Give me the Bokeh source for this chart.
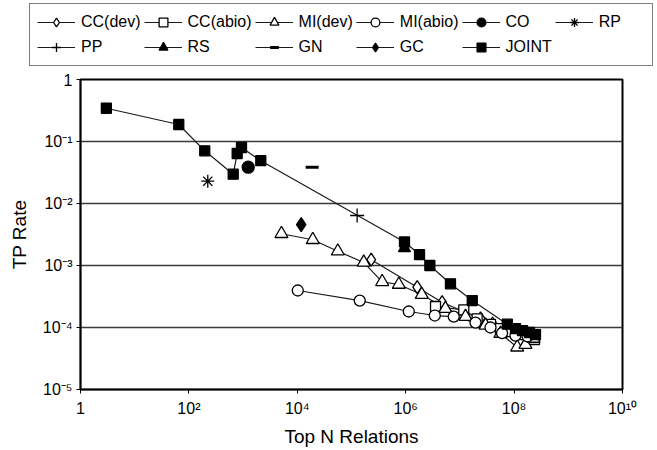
from bokeh.plotting import figure
from bokeh.models import Range1d, FixedTicker, Legend, LegendItem
from bokeh.embed import file_html
from bokeh.resources import INLINE

# ---------------- data ----------------
cc_dev_x = [2.31e5, 1.63e6, 4.7e6, 1.16e7, 2.4e7, 4.0e7, 6.4e7, 9.3e7, 1.31e8, 1.77e8, 2.18e8]
cc_dev_y = [1.24e-3, 4.47e-4, 2.56e-4, 1.81e-4, 1.40e-4, 1.16e-4, 1.0e-4, 8.9e-5, 8.3e-5, 7.7e-5, 7.4e-5]

cc_abio_x = [3.55e6, 1.18e7, 2.08e7, 3.67e7, 5.6e7, 8.6e7, 1.31e8, 1.85e8, 2.38e8]
cc_abio_y = [2.18e-4, 1.93e-4, 1.38e-4, 1.12e-4, 9.6e-5, 8.6e-5, 7.7e-5, 6.9e-5, 6.4e-5]

mi_dev_x = [5.1e3, 1.93e4, 5.59e4, 1.68e5, 3.68e5, 7.46e5, 1.98e6, 5.4e6, 1.27e7, 2.97e7, 5.6e7, 1.14e8, 1.62e8, 2.28e8]
mi_dev_y = [3.25e-3, 2.6e-3, 1.7e-3, 1.12e-3, 5.46e-4, 4.94e-4, 3.4e-4, 2.02e-4, 1.5e-4, 1.08e-4, 8.0e-5, 4.8e-5, 5.3e-5, 6.65e-5]

mi_abio_x = [1.02e4, 1.42e5, 1.14e6, 3.44e6, 7.7e6, 1.94e7, 3.67e7, 6.0e7, 1.06e8, 1.77e8]
mi_abio_y = [3.95e-4, 2.72e-4, 1.81e-4, 1.56e-4, 1.5e-4, 1.2e-4, 1.0e-4, 8.1e-5, 7.4e-5, 7.2e-5]

joint_x = [3, 65, 196, 657, 778, 934, 2120, 9.5e5, 1.8e6, 2.79e6, 6.7e6, 1.69e7, 7.5e7, 1.06e8, 1.43e8, 1.92e8, 2.48e8]
joint_y = [0.344, 0.188, 0.0708, 0.0297, 0.064, 0.080, 0.049, 2.4e-3, 1.5e-3, 1.0e-3, 5.07e-4, 2.72e-4, 1.13e-4, 9.6e-5, 8.9e-5, 8.3e-5, 7.7e-5]

co_x, co_y = [1242], [0.0385]
rp_x, rp_y = [223], [0.0229]
pp_x, pp_y = [1.27e5], [0.0064]
rs_x, rs_y = [9.5e5], [1.9e-3]
gn_x, gn_y = [1.88e4], [0.0385]
gc_x, gc_y = [1.18e4], [4.58e-3]

x_ticks = [1, 1e2, 1e4, 1e6, 1e8, 1e10]
x_tick_labels = ["1", "10²", "10⁴", "10⁶", "10⁸", "10¹⁰"]
y_ticks = [1e-5, 1e-4, 1e-3, 1e-2, 1e-1, 1]
y_tick_labels = ["10⁻⁵", "10⁻⁴", "10⁻³", "10⁻²", "10⁻¹", "1"]

FONT = "Liberation Sans"

series = [
    ("CC(dev)", cc_dev_x, cc_dev_y, "diamond", 13, "white"),
    ("CC(abio)", cc_abio_x, cc_abio_y, "square", 10, "white"),
    ("MI(dev)", mi_dev_x, mi_dev_y, "triangle", 13, "white"),
    ("MI(abio)", mi_abio_x, mi_abio_y, "circle", 11, "white"),
    ("CO", co_x, co_y, "circle", 12, "black"),
    ("RP", rp_x, rp_y, "asterisk", 13, "black"),
    ("PP", pp_x, pp_y, "cross", 14, "black"),
    ("RS", rs_x, rs_y, "triangle", 12, "black"),
    ("GN", gn_x, gn_y, "dash", 13, "black"),
    ("GC", gc_x, gc_y, "diamond", 14, "black"),
    ("JOINT", joint_x, joint_y, "square", 10, "black"),
]

# ---------------- main chart ----------------
p = figure(width=657, height=379, x_axis_type="log", y_axis_type="log",
           x_range=Range1d(1, 1e10), y_range=Range1d(1e-5, 1),
           output_backend="svg", toolbar_location=None,
           min_border_left=80, min_border_right=35, min_border_top=8, min_border_bottom=61)

p.outline_line_color = "black"
p.outline_line_width = 2
p.background_fill_color = "white"
p.border_fill_color = "white"

p.xgrid.visible = False
p.ygrid.ticker = FixedTicker(ticks=y_ticks)
p.ygrid.grid_line_color = "#3a3a3a"
p.ygrid.grid_line_width = 1.5

for ax, ticks, labels in ((p.xaxis[0], x_ticks, x_tick_labels), (p.yaxis[0], y_ticks, y_tick_labels)):
    ax.ticker = FixedTicker(ticks=ticks, minor_ticks=[])
    ax.major_label_overrides = {t: l for t, l in zip(ticks, labels)}
    ax.major_tick_in = 0
    ax.major_tick_out = 4
    ax.minor_tick_in = 0
    ax.minor_tick_out = 0
    ax.axis_line_color = "black"
    ax.axis_line_width = 1.5
    ax.major_tick_line_color = "black"
    ax.major_label_text_font = FONT
    ax.major_label_text_font_size = "16px"
    ax.major_label_text_color = "black"
    ax.axis_label_text_font = FONT
    ax.axis_label_text_font_size = "19px"
    ax.axis_label_text_font_style = "normal"
    ax.axis_label_text_color = "black"

p.xaxis.axis_label = "Top N Relations"
p.yaxis.axis_label = "TP Rate"
p.xaxis.major_label_standoff = 6
p.xaxis.axis_label_standoff = 6
p.yaxis.major_label_standoff = 4
p.yaxis.axis_label_standoff = 10

for name, xs, ys, marker, size, fill in series:
    p.line(xs, ys, line_color="#1a1a1a", line_width=1.2)
for name, xs, ys, marker, size, fill in series:
    lw = 3 if marker == "dash" else 1.3
    p.scatter(xs, ys, marker=marker, size=size, fill_color=fill,
              line_color="black", line_width=lw)

# ---------------- legend strip (same series, shown only as legend keys) ----------------
lg = figure(width=657, height=71, x_range=Range1d(0, 1), y_range=Range1d(0, 1),
            output_backend="svg", toolbar_location=None,
            x_axis_location=None, y_axis_location=None,
            min_border_left=0, min_border_right=0, min_border_top=0, min_border_bottom=0)
lg.outline_line_color = None
lg.grid.visible = False

items = []
for name, xs, ys, marker, size, fill in series:
    lr = lg.line(xs, ys, line_color="#1a1a1a", line_width=1.2)
    lw = 3 if marker == "dash" else 1.3
    sr = lg.scatter(xs, ys, marker=marker, size=size, fill_color=fill,
                    line_color="black", line_width=lw)
    items.append(LegendItem(label=name, renderers=[lr, sr]))

legend = Legend(items=items, location=(29, 5), orientation="horizontal", ncols=6,
                margin=0, padding=7, spacing=3,
                glyph_width=38, glyph_height=22, label_width=46, label_height=22,
                label_standoff=6,
                label_text_font=FONT, label_text_font_size="16px", label_text_color="black",
                border_line_color="black", border_line_width=1.5,
                background_fill_color="white", background_fill_alpha=1.0)
lg.add_layout(legend, "center")

open("out.html", "w").write(file_html([lg, p], INLINE))
